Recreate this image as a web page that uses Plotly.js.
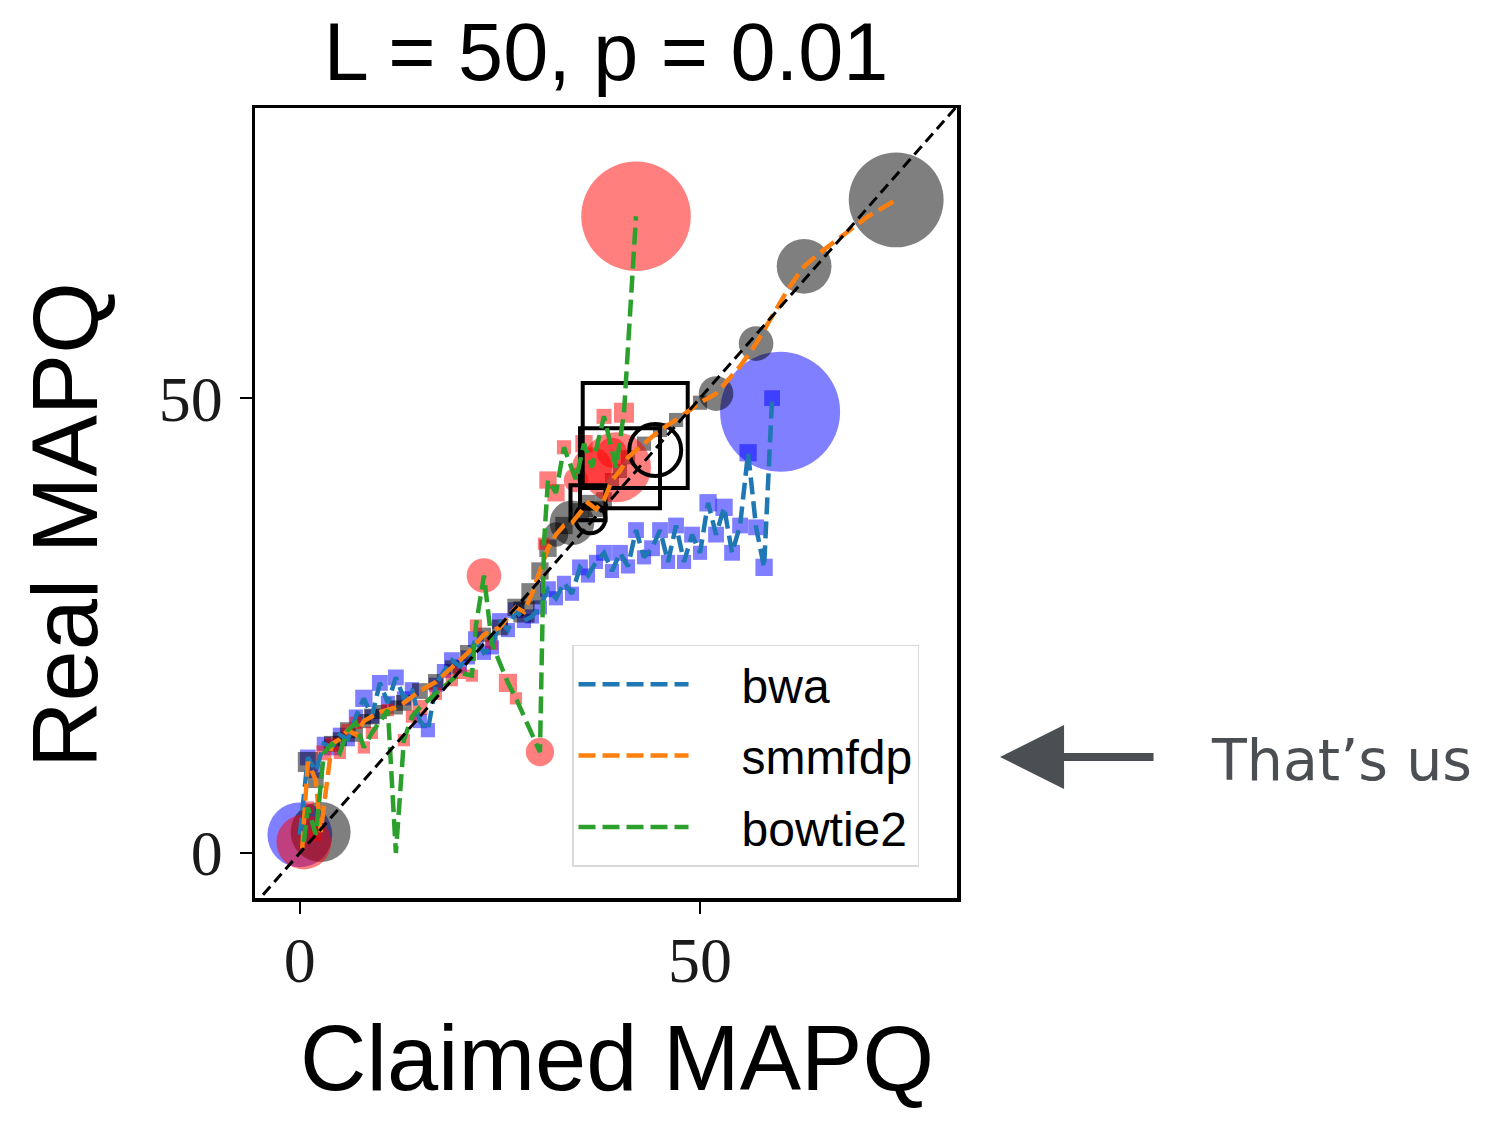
<!DOCTYPE html>
<html><head><meta charset="utf-8">
<script src="https://cdn.plot.ly/plotly-3.0.1.min.js"></script>
<style>html,body{margin:0;padding:0;background:#fff}</style>
</head><body>
<div id="chart" style="width:1494px;height:1121px"></div>
<script>
// ---------- data ----------
const methods = ['bwa', 'smmfdp', 'bowtie2'];

// bwa: claimed vs real MAPQ, marker count per point
const bwaX = [0, 1, 2, 3, 4, 5, 6, 7, 8, 9, 10, 11, 12, 13, 14, 15, 16, 17, 18, 19, 20, 21, 22, 23, 24, 25, 26, 27, 28, 29, 30, 31, 32, 33, 34, 35, 36, 37, 38, 39, 40, 41, 42, 43, 44, 45, 46, 47, 48, 49, 50, 51, 52, 53, 54, 55, 56, 57, 58, 59];
const bwaY = [2, 10.5, 9, 12, 11.6, 13, 12.5, 15, 17, 15, 18.7, 16.5, 19.3, 17, 18, 14.5, 13.5, 18.5, 20, 21.2, 20.5, 21.5, 23.5, 22, 22.6, 25.5, 24.5, 26.7, 25.5, 26, 27, 29, 28, 29.7, 28.5, 31.4, 30.5, 32, 33, 31, 33, 31.5, 35.5, 32.5, 33.5, 35.5, 32, 36, 32, 35, 33, 38.5, 35, 38, 33, 36, 44, 35.8, 31.4, 50];
const bwaCount = [4200, 250, 200, 200, 250, 200, 200, 200, 300, 200, 250, 200, 250, 200, 200, 200, 200, 200, 200, 250, 200, 200, 250, 200, 200, 250, 200, 250, 200, 200, 200, 250, 200, 200, 200, 250, 200, 200, 250, 200, 250, 200, 250, 200, 250, 250, 200, 250, 200, 250, 200, 300, 250, 300, 250, 250, 300, 250, 300, 250];
const bwaExtraX = [60];
const bwaExtraY = [48.5];
const bwaExtraCount = [14400];

// smmfdp
const smmX = [0.3, 1, 2, 2.6, 4, 5, 6, 7, 8, 9, 10, 12, 13, 15, 17, 19, 21, 23, 25, 27, 28, 29, 30, 31, 32, 33, 34, 35, 36, 37, 38, 39, 40, 41, 43, 45, 47, 50, 52, 55, 57, 59, 61, 63, 65, 68, 71, 74.5];
const smmY = [0.5, 10, 8, 2.3, 12, 12.5, 13.5, 13, 14.5, 15, 15.5, 16, 16.5, 17.8, 18.8, 20.4, 22, 24, 24.8, 27, 26.5, 28.5, 31, 33.5, 35, 36, 36.3, 37.5, 38.5, 37.8, 38.8, 41, 42, 43.5, 45, 46.5, 47.6, 49.5, 50.5, 53.5, 56, 59, 62, 64.5, 66, 68, 70, 71.8];
const smmCount = [0, 400, 250, 3600, 250, 200, 250, 200, 200, 250, 200, 200, 250, 250, 250, 200, 250, 200, 250, 300, 450, 450, 300, 300, 600, 300, 2000, 300, 250, 250, 250, 200, 200, 200, 200, 200, 200, 200, 1200, 0, 1200, 0, 0, 3000, 0, 0, 0, 9000];

// bowtie2
const bt2X = [0.5, 1, 2, 3, 4, 5, 6, 7, 8, 9, 11, 12, 13, 14, 15, 17, 19, 20, 21.5, 22, 23, 24, 26, 27, 30, 30.5, 31, 32, 33, 34.5, 35.5, 36.5, 38, 39, 39.5, 40.5, 42];
const bt2Y = [1.2, 5, 2, 11, 12, 11, 13.5, 14.3, 11.6, 13.2, 15.7, 0, 12.4, 15, 16, 17.5, 19, 19.8, 19.5, 25, 30.5, 23, 18.7, 17, 11.1, 34, 41, 39.6, 44.6, 41, 45, 42.4, 48, 44, 42.4, 48.4, 70];
const bt2Count = [3000, 150, 150, 225, 150, 150, 150, 150, 150, 150, 150, 0, 150, 150, 225, 150, 150, 150, 150, 150, 1200, 150, 330, 150, 800, 150, 300, 300, 200, 600, 300, 1600, 225, 900, 4900, 400, 12000];

// hollow reference markers (black)
const boxX = [41.9, 40, 36];
const boxY = [45.9, 42.3, 38.5];
const boxCount = [11025, 6400, 1225];
const ringX = [44.4, 36.3];
const ringY = [44.3, 36.8];
const ringCount = [2700, 900];

// identity reference y = x over the axis span
const identity = [-6, 83];

const xTicks = [0, 50];
const yTicks = [0, 50];

// ---------- drawing ----------
const lineColors = {bwa: '#1f77b4', smmfdp: '#ff7f0e', bowtie2: '#2ca02c'};
const dotColors = {bwa: 'rgba(0,0,255,0.5)', smmfdp: 'rgba(0,0,0,0.5)', bowtie2: 'rgba(255,0,0,0.5)'};
const dia = c => Math.sqrt(c);

function markerTrace(x, y, counts, color) {
  const keep = counts.map((c, i) => c > 0 ? i : -1).filter(i => i >= 0);
  const cs = keep.map(i => counts[i]);
  return {
    type: 'scatter', mode: 'markers', showlegend: false, hoverinfo: 'skip',
    x: keep.map(i => x[i]), y: keep.map(i => y[i]),
    marker: {
      size: cs.map(dia), opacity: 1,
      symbol: cs.map(c => dia(c) > 24 ? 'circle' : 'square'),
      color: color, line: {width: 0}
    }
  };
}
function lineTrace(name, x, y) {
  return {
    type: 'scatter', mode: 'lines', name: '\u2003' + name, x: x, y: y, legendgroup: name,
    line: {color: lineColors[name], width: 4.5, dash: '17px,7px'}
  };
}

const traces = [
  markerTrace(bwaX, bwaY, bwaCount, dotColors.bwa),
  markerTrace(bwaExtraX, bwaExtraY, bwaExtraCount, dotColors.bwa),
  markerTrace(smmX, smmY, smmCount, dotColors.smmfdp),
  markerTrace(bt2X, bt2Y, bt2Count, dotColors.bowtie2),
  {type: 'scatter', mode: 'markers', showlegend: false, hoverinfo: 'skip', x: boxX, y: boxY,
   marker: {size: boxCount.map(dia), opacity: 1, symbol: 'square-open', color: 'black', line: {width: 4, color: 'black'}}},
  {type: 'scatter', mode: 'markers', showlegend: false, hoverinfo: 'skip', x: ringX, y: ringY,
   marker: {size: ringCount.map(dia), opacity: 1, symbol: 'circle-open', color: 'black', line: {width: 4, color: 'black'}}},
  lineTrace('bwa', bwaX, bwaY),
  lineTrace('smmfdp', smmX, smmY),
  lineTrace('bowtie2', bt2X, bt2Y),
  {type: 'scatter', mode: 'lines', showlegend: false, hoverinfo: 'skip', x: identity, y: identity,
   line: {color: 'black', width: 3, dash: '11px,6px'}}
];

const axisCommon = {
  ticks: 'outside', ticklen: 12, tickwidth: 2.5, tickcolor: 'black',
  showline: true, mirror: true, linecolor: 'black', linewidth: 3.5,
  showgrid: false, zeroline: false,
  tickfont: {family: 'Liberation Serif', size: 64, color: '#1a1a1a'}
};

const layout = {
  width: 1494, height: 1121,
  margin: {l: 255, r: 537, t: 108, b: 223, pad: 0},
  paper_bgcolor: 'white', plot_bgcolor: 'white',
  title: {text: 'L = 50, p = 0.01', font: {family: 'Liberation Sans', size: 81, color: 'black'},
          x: 0.5, xref: 'paper', xanchor: 'center', y: 0.954, yref: 'container', yanchor: 'middle'},
  xaxis: Object.assign({}, axisCommon, {
    range: [-5.6, 82.1], tickvals: xTicks, ticktext: xTicks.map(String), ticklabelstandoff: -8,
    title: {text: ''}
  }),
  yaxis: Object.assign({}, axisCommon, {
    range: [-4.95, 81.9], tickvals: yTicks, ticktext: yTicks.map(String), ticklabelstandoff: 4,
    title: {text: ''}
  }),
  legend: {
    x: 0.4516, y: 0.3203, xanchor: 'left', yanchor: 'top',
    bgcolor: 'rgba(255,255,255,0.9)', bordercolor: '#d9d9d9', borderwidth: 1.5,
    font: {family: 'Liberation Sans', size: 48, color: 'black'},
    itemwidth: 110, traceorder: 'grouped', tracegroupgap: 6
  },
  annotations: [
    {xref: 'paper', yref: 'paper', x: 0.5157, y: -0.2025, xanchor: 'center', yanchor: 'middle',
     text: 'Claimed MAPQ', showarrow: false,
     font: {family: 'Liberation Sans', size: 92, color: 'black'}},
    {xref: 'paper', yref: 'paper', x: -0.2707, y: 0.4722, xanchor: 'center', yanchor: 'middle',
     text: 'Real MAPQ', textangle: -90, showarrow: false,
     font: {family: 'Liberation Sans', size: 92, color: 'black'}},
    {xref: 'paper', yref: 'paper', x: 1.0613, y: 0.1785, ax: 155, ay: 0, axref: 'pixel', ayref: 'pixel',
     text: '', showarrow: true, arrowhead: 2, arrowsize: 1.6, arrowwidth: 8, arrowcolor: '#4b4f54'},
    {xref: 'paper', yref: 'paper', x: 1.548, y: 0.175, xanchor: 'center', yanchor: 'middle',
     text: 'That\u2019s us', showarrow: false, font: {family: 'DejaVu Sans', size: 57, color: '#4b4f54'}}
  ]
};

Plotly.newPlot('chart', traces, layout, {displayModeBar: false, staticPlot: true});
</script>
</body></html>
